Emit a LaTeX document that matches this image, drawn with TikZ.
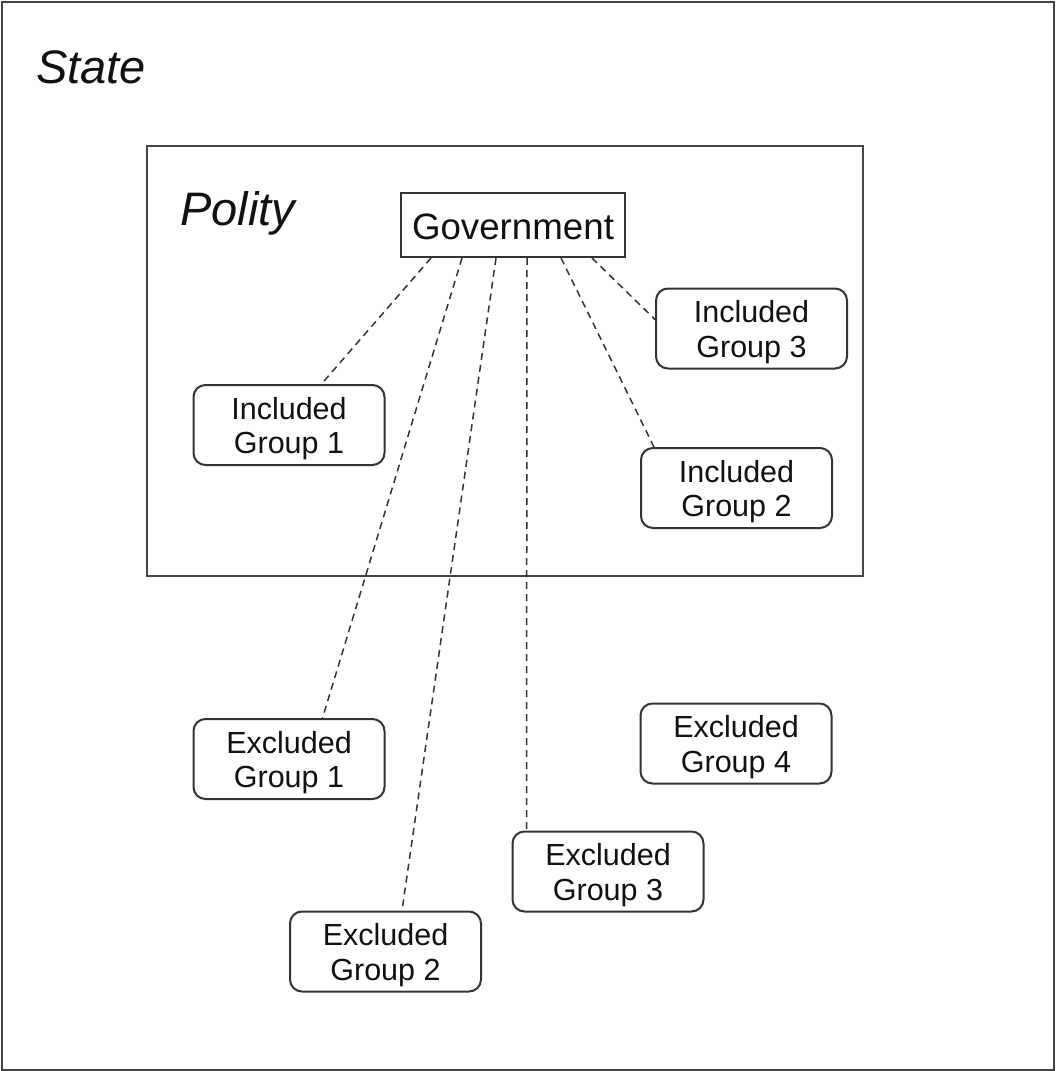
\documentclass[tikz,border=0pt]{standalone}
\usepackage{fontspec}
\setmainfont{Liberation Sans}
\definecolor{framegray}{HTML}{444444}
\definecolor{boxgray}{HTML}{333333}
\definecolor{txt}{HTML}{111111}
\newcommand\grpfont{\fontsize{30.5}{34.5}\selectfont}
\newcommand\govfont{\fontsize{36.7}{40}\selectfont}
\newcommand\bigfont{\fontsize{47}{52}\selectfont\itshape}
\newcommand\twoline[2]{\rule{0pt}{29pt}#1\\#2}
\tikzset{
  grp/.style={draw=boxgray, line width=2pt, rounded corners=12pt,
    minimum width=191pt, minimum height=80pt, inner sep=0pt,
    align=center, font=\grpfont, text=txt},
  govbox/.style={draw=boxgray, line width=2pt, minimum width=224pt,
    minimum height=64pt, inner sep=0pt, text height=29.5pt, text depth=0pt,
    font=\govfont, text=txt},
  frame/.style={draw=framegray, line width=2pt},
  link/.style={draw=boxgray, line width=1.5pt, dash pattern=on 7pt off 5pt},
  biglabel/.style={anchor=base west, inner sep=0pt, font=\bigfont, text=txt}
}
\begin{document}
\begin{tikzpicture}[x=1pt,y=-1pt]
  \useasboundingbox (0,0) rectangle (1055,1071);
  \fill[white] (0,0) rectangle (1055,1071);
  % frames
  \draw[frame] (1.5,1.5) rectangle (1053.5,1069.5);
  \node[biglabel] (state) at (36,83) {State};
  \draw[frame] (146.5,145.5) rectangle (863,575.5);
  \node[biglabel] (polity) at (180,225) {Polity};
  % government
  \node[govbox] (gov) at (513,225) {Government};
  % groups
  \node[grp] (ig1) at (289,425) {\twoline{Included}{Group 1}};
  \node[grp] (ig3) at (751.5,328.5) {\twoline{Included}{Group 3}};
  \node[grp] (ig2) at (736.5,488) {\twoline{Included}{Group 2}};
  \node[grp] (eg1) at (289,759) {\twoline{Excluded}{Group 1}};
  \node[grp] (eg2) at (385.5,951.5) {\twoline{Excluded}{Group 2}};
  \node[grp] (eg3) at (608,871.5) {\twoline{Excluded}{Group 3}};
  \node[grp] (eg4) at (736,743.5) {\twoline{Excluded}{Group 4}};
  % connectors
  \draw[link] ([xshift=31pt]gov.south west) -- ([xshift=129pt]ig1.north west);
  \draw[link] ([xshift=62pt]gov.south west) -- ([xshift=130pt]eg1.north west);
  \draw[link] ([xshift=96pt]gov.south west) -- ([xshift=113pt]eg2.north west);
  \draw[link] ([xshift=127pt]gov.south west) -- ([xshift=15pt]eg3.north west);
  \draw[link] ([xshift=161pt]gov.south west) -- ([xshift=14pt]ig2.north west);
  \draw[link] ([xshift=192pt]gov.south west) -- ([yshift=-32pt]ig3.north west);
\end{tikzpicture}
\end{document}
